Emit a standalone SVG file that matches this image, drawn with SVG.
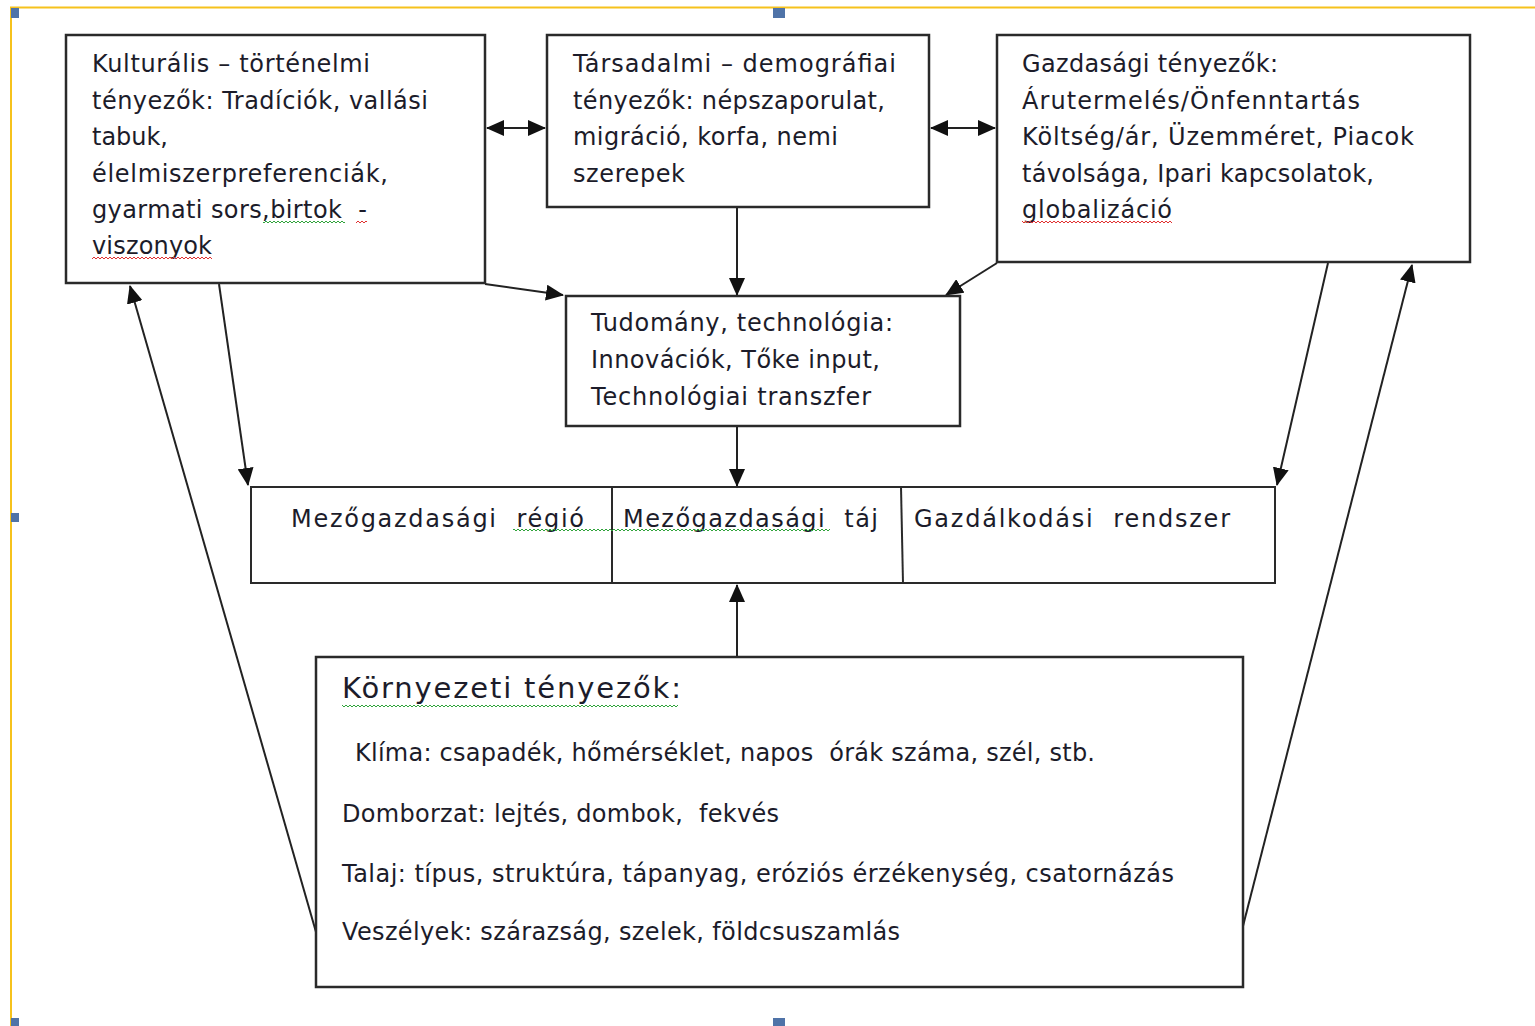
<svg xmlns="http://www.w3.org/2000/svg" width="1535" height="1026" viewBox="0 0 1535 1026">
<defs>
<style>
.box{fill:#fff;stroke:#2a2a2a;stroke-width:2.5}
.cell{fill:none;stroke:#2a2a2a;stroke-width:2}
.t{font-family:"DejaVu Sans","Noto Sans",sans-serif;font-size:24px;fill:#1c1c2a}
.big{font-size:29px}
.con{fill:none;stroke:#222;stroke-width:2}
.hdl{fill:#4f73a8}
</style>
<marker id="ah" viewBox="0 0 18 16" refX="17" refY="8" markerWidth="18" markerHeight="16" markerUnits="userSpaceOnUse" orient="auto-start-reverse">
<path d="M0,0 L18,8 L0,16 z" fill="#111"/>
</marker>
<pattern id="sqR" width="4" height="4" patternUnits="userSpaceOnUse">
<path d="M0,3 L2,1 L4,3" fill="none" stroke="#e03030" stroke-width="1"/>
</pattern>
<pattern id="sqG" width="4" height="4" patternUnits="userSpaceOnUse">
<path d="M0,3 L2,1 L4,3" fill="none" stroke="#2fa33a" stroke-width="1"/>
</pattern>
</defs>
<rect width="1535" height="1026" fill="#fff"/>

<g id="frame">
<path d="M11,1026 V7.5 H1535" fill="none" stroke="#f6c21c" stroke-width="2"/>
<rect class="hdl" x="11" y="8" width="8" height="10"/>
<rect class="hdl" x="773" y="8" width="12" height="10"/>
<rect class="hdl" x="11" y="513" width="8" height="9"/>
<rect class="hdl" x="11" y="1018" width="8" height="8"/>
<rect class="hdl" x="773" y="1018" width="12" height="8"/>
</g>

<g id="connectors">
<line class="con" x1="487" y1="128" x2="545" y2="128" marker-start="url(#ah)" marker-end="url(#ah)"/>
<line class="con" x1="931" y1="128" x2="995" y2="128" marker-start="url(#ah)" marker-end="url(#ah)"/>
<line class="con" x1="737" y1="208" x2="737" y2="295" marker-end="url(#ah)"/>
<line class="con" x1="485" y1="284" x2="563" y2="295" marker-end="url(#ah)"/>
<line class="con" x1="997" y1="263" x2="946" y2="295" marker-end="url(#ah)"/>
<line class="con" x1="737" y1="427" x2="737" y2="486" marker-end="url(#ah)"/>
<line class="con" x1="219" y1="284" x2="248" y2="485" marker-end="url(#ah)"/>
<line class="con" x1="1328" y1="263" x2="1277" y2="485" marker-end="url(#ah)"/>
<line class="con" x1="737" y1="656" x2="737" y2="585" marker-end="url(#ah)"/>
<line class="con" x1="316" y1="932" x2="130" y2="286" marker-end="url(#ah)"/>
<line class="con" x1="1243" y1="926" x2="1412" y2="265" marker-end="url(#ah)"/>
</g>

<g id="kulturalis">
<rect class="box" x="66" y="35" width="419" height="248"/>
<text class="t" x="92" y="72" textLength="278">Kulturális – történelmi</text>
<text class="t" x="92" y="109" textLength="336">tényezők: Tradíciók, vallási</text>
<text class="t" x="92" y="145" textLength="76">tabuk,</text>
<text class="t" x="92" y="182" textLength="296">élelmiszerpreferenciák,</text>
<text class="t" x="92" y="218" textLength="275" xml:space="preserve">gyarmati sors,birtok  -</text>
<text class="t" x="92" y="254" textLength="120">viszonyok</text>
<rect x="263" y="219" width="82" height="4" fill="url(#sqG)"/>
<rect x="356" y="219" width="11" height="4" fill="url(#sqR)"/>
<rect x="92" y="255" width="120" height="4" fill="url(#sqR)"/>
</g>

<g id="tarsadalmi">
<rect class="box" x="547" y="35" width="382" height="172"/>
<text class="t" x="573" y="72" textLength="323">Társadalmi – demográfiai</text>
<text class="t" x="573" y="109" textLength="312">tényezők: népszaporulat,</text>
<text class="t" x="573" y="145" textLength="265">migráció, korfa, nemi</text>
<text class="t" x="573" y="182" textLength="112">szerepek</text>
</g>

<g id="gazdasagi">
<rect class="box" x="997" y="35" width="473" height="227"/>
<text class="t" x="1022" y="72" textLength="256">Gazdasági tényezők:</text>
<text class="t" x="1022" y="109" textLength="338">Árutermelés/Önfenntartás</text>
<text class="t" x="1022" y="145" textLength="392">Költség/ár, Üzemméret, Piacok</text>
<text class="t" x="1022" y="182" textLength="352">távolsága, Ipari kapcsolatok,</text>
<text class="t" x="1022" y="218" textLength="150">globalizáció</text>
<rect x="1022" y="221" width="150" height="4" fill="url(#sqR)"/>
</g>

<g id="tudomany">
<rect class="box" x="566" y="296" width="394" height="130"/>
<text class="t" x="591" y="331" textLength="302">Tudomány, technológia:</text>
<text class="t" x="591" y="368" textLength="289">Innovációk, Tőke input,</text>
<text class="t" x="591" y="405" textLength="280">Technológiai transzfer</text>
</g>

<g id="mezogazdasag">
<rect class="cell" x="251" y="487" width="1024" height="96"/>
<line class="cell" x1="612" y1="487" x2="612" y2="583"/>
<line class="cell" x1="901" y1="487" x2="903" y2="583"/>
<text class="t" x="291" y="527" textLength="293" xml:space="preserve">Mezőgazdasági  régió</text>
<text class="t" x="623" y="527" textLength="255" xml:space="preserve">Mezőgazdasági  táj</text>
<text class="t" x="914" y="527" textLength="316" xml:space="preserve">Gazdálkodási  rendszer</text>
<rect x="513" y="529" width="317" height="4" fill="url(#sqG)"/>
</g>

<g id="kornyezeti">
<rect class="box" x="316" y="657" width="927" height="330"/>
<text class="t big" x="342" y="698" textLength="339">Környezeti tényezők:</text>
<text class="t" x="355" y="761" textLength="740" xml:space="preserve">Klíma: csapadék, hőmérséklet, napos  órák száma, szél, stb.</text>
<text class="t" x="342" y="822" textLength="437" xml:space="preserve">Domborzat: lejtés, dombok,  fekvés</text>
<text class="t" x="342" y="882" textLength="832">Talaj: típus, struktúra, tápanyag, eróziós érzékenység, csatornázás</text>
<text class="t" x="342" y="940" textLength="558">Veszélyek: szárazság, szelek, földcsuszamlás</text>
<rect x="342" y="703" width="336" height="4" fill="url(#sqG)"/>
</g>
</svg>
